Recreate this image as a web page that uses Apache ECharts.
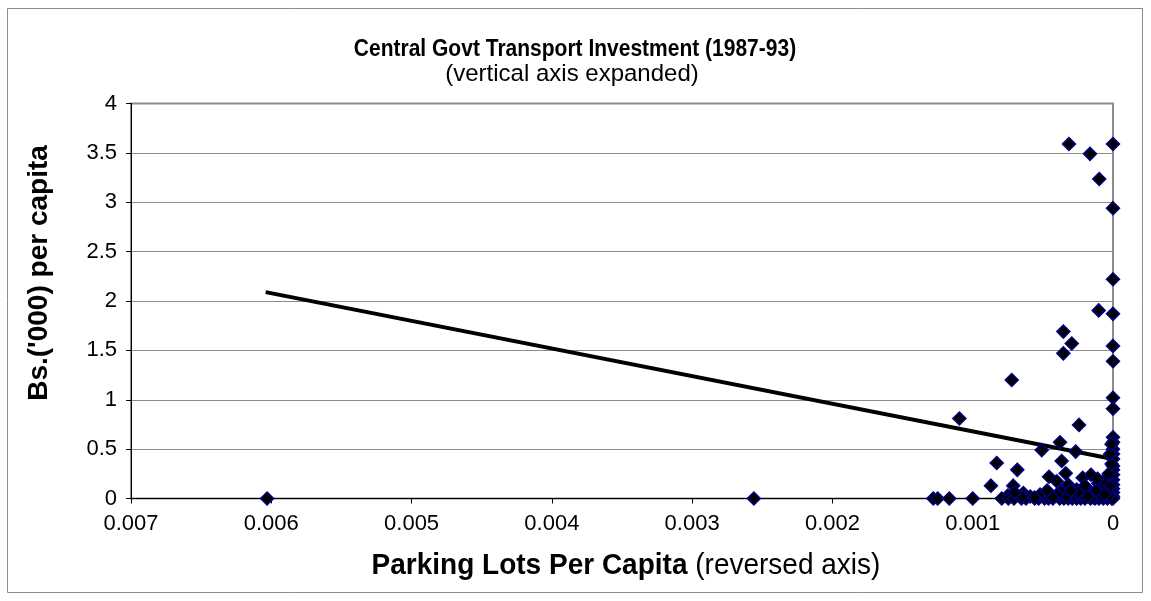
<!DOCTYPE html>
<html>
<head>
<meta charset="utf-8">
<script src="https://cdn.jsdelivr.net/npm/echarts@6/dist/echarts.min.js"></script>
<style>
html,body{margin:0;padding:0;background:#fff;}
#chart{width:1151px;height:601px;}
</style>
</head>
<body>
<div id="chart"></div>
<script>
// ---- Data ----
const titleText = "Central Govt Transport Investment (1987-93)";
const subtitleText = "(vertical axis expanded)";
const xNameBold = "Parking Lots Per Capita";
const xNameRegular = " (reversed axis)";
const yNameText = "Bs.('000) per capita";

// scatter points: parking lots per capita (x) and Bs.('000) per capita (y)
const xValues = [
  0.000314, 0, 0.000164, 0.000098, 0, 0,
  0.000102, 0, 0.000354, 0.000294, 0.000354, 0, 0,
  0.000722, 0, 0, 0.001095, 0.000242, 0.000378, 0.000508, 0.000266,
  0.000829, 0.000366, 0.000682, 0.000337, 0.000456, 0.000401, 0.00087,
  0.000711, 0.000319, 0.000216, 0.000157, 0.000259, 0.000069, 0.000639,
  0.000187, 0.000105, 0.000057, 0.00059, 0.000128, 0.00075,
  0, 0, 0, 0, 0, 0, 0, 0, 0, 0, 0, 0, 0,
  0.00603, 0.00256, 0.001281, 0.00125, 0.001167, 0.001, 0.000793, 0.000746,
  0.000706, 0.000653, 0.00062, 0.000558, 0.00053, 0.000488, 0.00046,
  0.000428, 0.00038, 0.00035, 0.000319, 0.00029, 0.000259, 0.00023,
  0.0002, 0.00016, 0.000128, 0.0001, 0.000069, 0.00004, 0.000009, 0,
  0.00005, 0.00015, 0.00009, 0.00002, 0.00022, 0.00028, 0.00045, 0.00037, 0.00014,
  0.00003, 0.00008, 0.00012, 0.00018, 0.00025, 0.00033, 0.0004, 0.00043,
  0.00052, 0.00056, 0.00065, 0.0007, 0.00006, 0.0002, 0.00011, 0.00003,
  0.00001, 0.00002, 0.00001, 0.0003, 0.00047
];
const yValues = [
  3.59, 3.59, 3.49, 3.235, 2.94, 2.22,
  1.905, 1.87, 1.69, 1.57, 1.47, 1.545, 1.39,
  1.2, 1.02, 0.91, 0.81, 0.745, 0.57, 0.49, 0.475,
  0.36, 0.38, 0.29, 0.255, 0.22, 0.175, 0.13,
  0.13, 0.14, 0.21, 0.24, 0.09, 0.175, 0.055,
  0.105, 0.155, 0.19, 0.02, 0.04, 0.03,
  0.62, 0.57, 0.5, 0.45, 0.4, 0.33, 0.29, 0.24, 0.19, 0.14, 0.1, 0.06, 0.02,
  0, 0, 0, 0, 0, 0, 0, 0,
  0, 0, 0, 0, 0, 0, 0,
  0, 0, 0, 0, 0, 0, 0,
  0, 0, 0, 0, 0, 0, 0, 0,
  0.07, 0.05, 0.1, 0.12, 0.04, 0.03, 0.03, 0.07, 0.01,
  0.03, 0.02, 0.08, 0.02, 0.06, 0.02, 0.04, 0.01,
  0.04, 0.01, 0.02, 0.06, 0.04, 0.13, 0.2, 0.25,
  0.35, 0.45, 0.55, 0.08, 0.08
];

// linear trend line end points
const trendX = [0.00604, 0];
const trendY = [2.09, 0.40];

// axis ticks
const xTicks = [0, 0.001, 0.002, 0.003, 0.004, 0.005, 0.006, 0.007];
const yTicks = [0, 0.5, 1, 1.5, 2, 2.5, 3, 3.5, 4];

const FONT = "Liberation Sans, Arial, sans-serif";
const scatterData = xValues.map((x, i) => [x, yValues[i]]);
const trendData = trendX.map((x, i) => [x, trendY[i]]);

const chart = echarts.init(document.getElementById('chart'), null, {renderer: 'canvas'});
chart.setOption({
  animation: false,
  backgroundColor: '#ffffff',
  textStyle: {fontFamily: FONT},
  grid: {
    left: 131, right: 38, top: 103.5, bottom: 102.5,
    show: true, borderColor: '#8c8c8c', borderWidth: 2, backgroundColor: 'transparent'
  },
  xAxis: {
    type: 'value',
    inverse: true,
    min: xTicks[0], max: xTicks[xTicks.length - 1], interval: 0.001,
    axisLine: {show: true, onZero: false, lineStyle: {color: '#000', width: 1}},
    axisTick: {show: true, inside: false, length: 5, lineStyle: {color: '#000'}},
    axisLabel: {
      color: '#000', fontSize: 22, fontFamily: FONT, margin: 14,
      formatter: v => String(+v.toFixed(3))
    },
    splitLine: {show: false}
  },
  yAxis: {
    type: 'value',
    min: yTicks[0], max: yTicks[yTicks.length - 1], interval: 0.5,
    axisLine: {show: true, onZero: false, lineStyle: {color: '#000', width: 1}},
    axisTick: {show: true, inside: false, length: 5, lineStyle: {color: '#000'}},
    axisLabel: {
      color: '#000', fontSize: 22, fontFamily: FONT, margin: 14,
      formatter: v => String(+v.toFixed(1))
    },
    splitLine: {show: true, lineStyle: {color: '#8c8c8c', width: 1}}
  },
  series: [
    {
      type: 'line',
      data: trendData,
      symbol: 'none',
      lineStyle: {color: '#000', width: 4},
      z: 2,
      silent: true
    },
    {
      type: 'scatter',
      data: scatterData,
      symbol: 'diamond',
      symbolSize: 13,
      itemStyle: {color: '#000000', borderColor: '#000080', borderWidth: 1.5, opacity: 1},
      z: 3
    }
  ],
  graphic: [
    {
      type: 'rect', silent: true, z: -1,
      shape: {x: 7.5, y: 8.5, width: 1135, height: 584},
      style: {fill: 'none', stroke: '#8c8c8c', lineWidth: 1}
    },
    {
      type: 'text', x: 575, y: 49, scaleY: 1.15,
      style: {text: titleText, font: 'bold 21px ' + FONT, fill: '#000',
        align: 'center', verticalAlign: 'middle'}
    },
    {
      type: 'text', x: 572, y: 74, scaleY: 1.02,
      style: {text: subtitleText, font: '24px ' + FONT, fill: '#000',
        align: 'center', verticalAlign: 'middle'}
    },
    {
      type: 'text', x: 626, y: 566, scaleY: 1.03,
      style: {
        text: '{b|' + xNameBold + '}{r|' + xNameRegular + '}',
        align: 'center', verticalAlign: 'middle',
        rich: {
          b: {font: 'bold 28px ' + FONT, fill: '#000'},
          r: {font: '28px ' + FONT, fill: '#000'}
        }
      }
    },
    {
      type: 'text', x: 39, y: 273, rotation: Math.PI / 2,
      style: {
        text: yNameText, font: 'bold 28px ' + FONT, fill: '#000',
        align: 'center', verticalAlign: 'middle'
      }
    }
  ]
});
</script>
</body>
</html>
